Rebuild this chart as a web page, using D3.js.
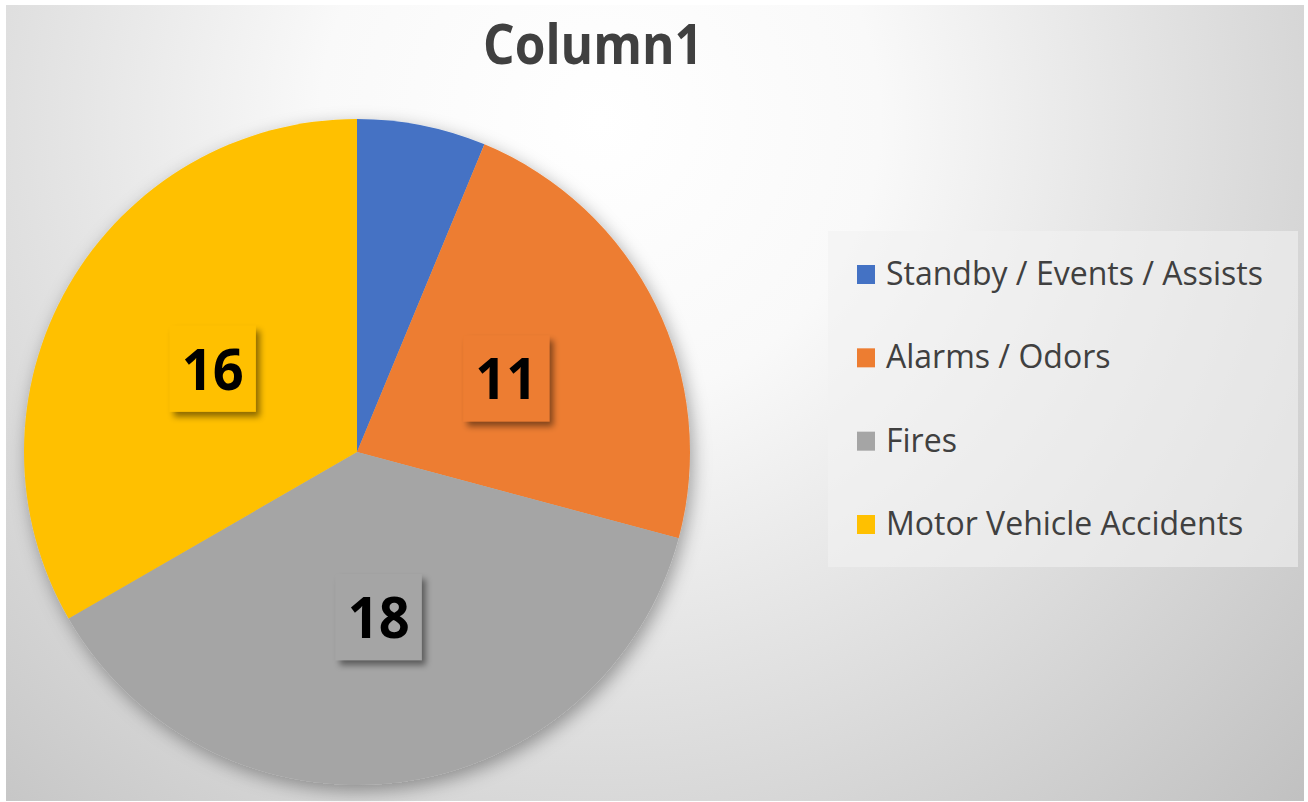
<!DOCTYPE html>
<html><head><meta charset="utf-8">
<script src="https://cdn.jsdelivr.net/npm/d3@7"></script>
<style>html,body{margin:0;padding:0;background:#fff;}svg{display:block;}</style>
</head><body>
<svg id="chart" width="1308" height="802"></svg>
<script>
const title = "Column1";
const categories = ["Standby / Events / Assists", "Alarms / Odors", "Fires", "Motor Vehicle Accidents"];
const values = [3, 11, 18, 16];
const colors = ["#4472C4", "#ED7D31", "#A5A5A5", "#FFC000"];
const showLabel = [false, true, true, true];

const svg = d3.select("#chart");
const defs = svg.append("defs");

const bg = defs.append("radialGradient").attr("id","bg").attr("gradientUnits","userSpaceOnUse")
  .attr("cx",600).attr("cy",120).attr("r",1000);
[[0,"#ffffff"],[0.28,"#f9f9f9"],[0.55,"#e3e3e3"],[0.8,"#cfcfcf"],[1,"#bfbfbf"]]
  .forEach(([o,c])=>bg.append("stop").attr("offset",o).attr("stop-color",c));

const sh = defs.append("filter").attr("id","pieShadow").attr("x","-20%").attr("y","-20%").attr("width","140%").attr("height","140%");
sh.append("feDropShadow").attr("dx",3).attr("dy",6).attr("stdDeviation",9).attr("flood-color","#000").attr("flood-opacity",0.35);
const lsh = defs.append("filter").attr("id","lblShadow").attr("x","-30%").attr("y","-30%").attr("width","160%").attr("height","160%");
lsh.append("feDropShadow").attr("dx",4).attr("dy",5).attr("stdDeviation",3).attr("flood-color","#000").attr("flood-opacity",0.45);

// chart area
svg.append("rect").attr("x",6).attr("y",5).attr("width",1298).attr("height",796).attr("fill","url(#bg)");

// title
const fitText = (sel, w) => sel.attr("textLength", w).attr("lengthAdjust","spacingAndGlyphs");
svg.append("text").attr("x",593).attr("y",64).attr("text-anchor","middle")
  .attr("font-family","'Open Sans', sans-serif").attr("font-weight","bold").attr("font-size",56)
  .attr("fill","#404040").text(title).call(fitText, 220);

// pie
const cx = 357, cy = 452, R = 333;
const data = categories.map((c,i)=>({cat:c, value:values[i], color:colors[i], show:showLabel[i]}));
const pie = d3.pie().value(d=>d.value).sort(null);
const arcs = pie(data);
const arc = d3.arc().innerRadius(0).outerRadius(R);
const g = svg.append("g").attr("transform",`translate(${cx},${cy})`);
g.append("g").attr("filter","url(#pieShadow)").selectAll("path").data(arcs).join("path")
  .attr("d",arc).attr("fill",d=>d.data.color);

// labels
const lab = g.selectAll("g.lbl").data(arcs.filter(d=>d.data.show)).join("g").attr("class","lbl")
  .attr("transform",d=>{const [x,y]=arc.centroid(d); return `translate(${x},${y})`;});
lab.append("rect").attr("x",-43).attr("y",-43).attr("width",86).attr("height",86)
  .attr("fill",d=>d.data.color).attr("filter","url(#lblShadow)");
lab.append("text").attr("text-anchor","middle").attr("y",21)
  .attr("font-family","'Open Sans', sans-serif").attr("font-weight","bold").attr("font-size",58)
  .attr("fill","#000").text(d=>d.data.value).call(fitText, 62);

// legend
const lg = svg.append("g");
lg.append("rect").attr("x",828).attr("y",231).attr("width",470).attr("height",336)
  .attr("fill","#f2f2f2").attr("fill-opacity",0.6);
const rowY = d3.scalePoint().domain(categories).range([285, 535]);
const item = lg.selectAll("g.item").data(data).join("g").attr("class","item")
  .attr("transform",d=>`translate(0,${rowY(d.cat)})`);
item.append("rect").attr("x",857).attr("y",-20).attr("width",18).attr("height",19).attr("fill",d=>d.color);
item.append("text").attr("x",886).attr("y",0)
  .attr("font-family","'Open Sans', sans-serif").attr("font-size",32).attr("fill","#404040")
  .text(d=>d.cat);
</script>
</body></html>
